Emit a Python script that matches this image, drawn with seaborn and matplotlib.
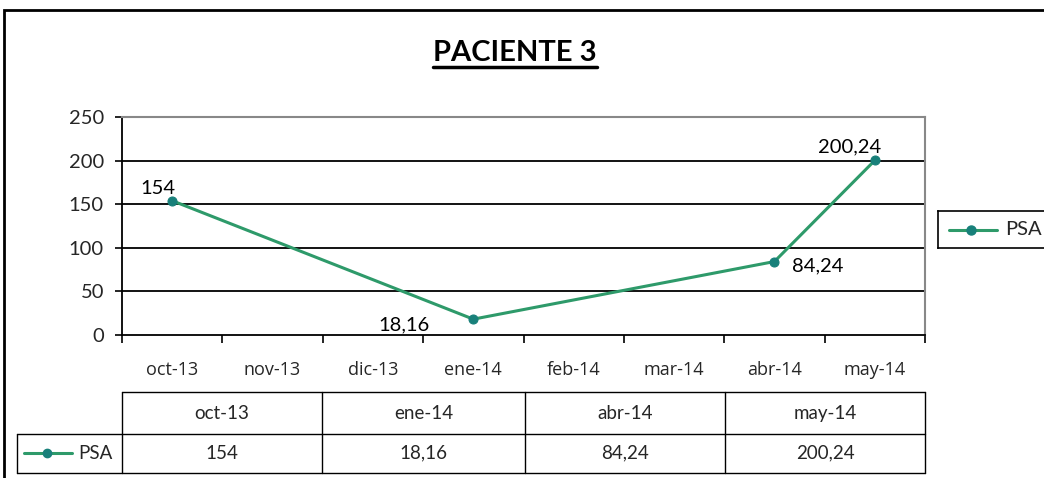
import matplotlib
matplotlib.use("Agg")
import matplotlib.pyplot as plt
import seaborn as sns
import pandas as pd
from matplotlib.lines import Line2D
from matplotlib.patches import Rectangle

# ---- data ----
months = ["oct-13", "nov-13", "dic-13", "ene-14", "feb-14", "mar-14", "abr-14", "may-14"]
obs_months = ["oct-13", "ene-14", "abr-14", "may-14"]
psa_values = [154, 18.16, 84.24, 200.24]
psa_labels = ["154", "18,16", "84,24", "200,24"]
series_name = "PSA"
title = "PACIENTE 3"
yticks = [0, 50, 100, 150, 200, 250]

LINE = "#2E9A6A"
MARK = "#18807A"
FONT = "Lato"

sns.set_theme(style="white")
plt.rcParams["font.family"] = [FONT, "DejaVu Sans"]

W, H = 1044, 478
fig = plt.figure(figsize=(W / 100, H / 100), dpi=100)
fig.patch.set_facecolor("white")

def fx(px):
    return px / W

def fy(py):
    return 1 - py / H

# outer frame (clipped on right/bottom)
fig.add_artist(Rectangle((fx(4), fy(560)), fx(1200), 550 / H, transform=fig.transFigure,
                         fill=False, edgecolor="black", linewidth=2))

# title
t = fig.text(fx(515), fy(53), title, ha="center", va="center", fontsize=21,
             fontweight="bold", color="black")
fig.canvas.draw()
bb = t.get_window_extent(renderer=fig.canvas.get_renderer())
fig.add_artist(Line2D([bb.x0 / W, bb.x1 / W], [fy(67), fy(67)], transform=fig.transFigure,
                      color="black", linewidth=2.5))

# main axes
x0, x1, ytop, ybot = 122, 925, 117, 335
ax = fig.add_axes([fx(x0), fy(ybot), (x1 - x0) / W, (ybot - ytop) / H])
df = pd.DataFrame({"x": [months.index(m) for m in obs_months], "y": psa_values})
sns.lineplot(data=df, x="x", y="y", ax=ax, color=LINE, linewidth=2.2, marker="o",
             markersize=6.5, markerfacecolor=MARK, markeredgecolor=MARK, label=series_name,
             legend=False)
ax.set_xlim(-0.5, len(months) - 0.5)
ax.set_ylim(0, 250)
ax.set_yticks(yticks)
ax.set_yticklabels([str(v) for v in yticks], fontsize=14.5)
ax.set_xticks(range(len(months)))
ax.set_xticklabels(months, fontsize=13, family=["Open Sans", "DejaVu Sans"])
ax.set_xticks([k + 0.5 for k in range(-1, len(months))], minor=True)
ax.tick_params(axis="x", which="major", length=0, pad=19)
ax.tick_params(axis="x", which="minor", length=6, width=1.2, color="black", direction="out", bottom=True)
ax.tick_params(axis="y", length=5, width=1.2, color="black", direction="out", left=True, pad=8)
ax.set_xlabel("")
ax.set_ylabel("")
for v in yticks[1:-1]:
    ax.axhline(v, color="black", linewidth=1.3, zorder=0)
for s in ["left", "bottom"]:
    ax.spines[s].set_color("black")
    ax.spines[s].set_linewidth(1.3)
for s in ["top", "right"]:
    ax.spines[s].set_color("#888888")
    ax.spines[s].set_linewidth(1.5)

# data labels
offsets = [(-10, 8.6), (-50, -4.3), (31, -3), (-18, 9.4)]
for (xi, yi), lab, (dx, dy) in zip(df.values, psa_labels, offsets):
    ax.annotate(lab, (xi, yi), xytext=(dx, dy), textcoords="offset points",
                ha="center", va="center", fontsize=14.5, color="black")

# legend box (right edge clipped by figure)
lax = fig.add_axes([fx(938), fy(248), fx(140), 37 / H])
lax.set_xlim(938, 1078)
lax.set_ylim(0, 37)
lax.set_xticks([]); lax.set_yticks([])
for s in lax.spines.values():
    s.set_color("black"); s.set_linewidth(1.2)
lax.plot([949, 997], [18.5, 18.5], color=LINE, linewidth=2.2)
lax.plot([971], [18.5], marker="o", markersize=6.5, color=MARK)
lax.text(1005, 18.5, series_name, va="center", ha="left", fontsize=14.5)

# data table
tx0, ty0, tx1, ty1 = 17, 392, 925, 473
tax = fig.add_axes([fx(tx0), fy(ty1), (tx1 - tx0) / W, (ty1 - ty0) / H])
tax.set_xlim(tx0, tx1)
tax.set_ylim(ty1, ty0)
tax.axis("off")
col_edges = [122, 322, 525, 725, 925]
lw = 1.0
kw = dict(color="black", lw=lw, clip_on=False)
tax.plot([122, 925], [392, 392], **kw)
tax.plot([17, 925], [434, 434], **kw)
tax.plot([17, 925], [473, 473], **kw)
for cx in col_edges:
    tax.plot([cx, cx], [392, 473], **kw)
tax.plot([17, 17], [434, 473], **kw)
for i, m in enumerate(obs_months):
    cxm = (col_edges[i] + col_edges[i + 1]) / 2
    tax.text(cxm, 413, m, ha="center", va="center", fontsize=13.5)
    tax.text(cxm, 453, psa_labels[i], ha="center", va="center", fontsize=13.5)
tax.plot([24, 72], [453, 453], color=LINE, linewidth=2.2)
tax.plot([47], [453], marker="o", markersize=6, color=MARK)
tax.text(78, 453, series_name, ha="left", va="center", fontsize=13.5)

fig.savefig("out.png", dpi=100, facecolor="white")
